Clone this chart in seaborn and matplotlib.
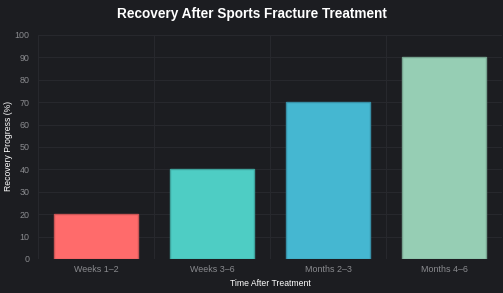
import matplotlib
matplotlib.use("Agg")
import matplotlib.pyplot as plt
import seaborn as sns
import pandas as pd

categories = ["Weeks 1\u20132", "Weeks 3\u20136", "Months 2\u20133", "Months 4\u20136"]
values = [20, 40, 70, 90]
colors = ["#FF6B6B", "#4ECDC4", "#45B7D1", "#96CEB4"]
edge_colors = ["#c95555", "#3ea39c", "#378fa6", "#76a38f"]
y_ticks = list(range(0, 101, 10))

bg = "#1c1d21"
sns.set_theme(style="dark")
plt.rcParams["font.family"] = ["Liberation Sans", "DejaVu Sans"]

df = pd.DataFrame({"cat": categories, "val": values})

fig = plt.figure(figsize=(5.03, 2.93), dpi=100, facecolor=bg)
ax = fig.add_axes([38/503, 34/293, 464/503, 224/293])
ax.set_facecolor(bg)

sns.barplot(data=df, x="cat", y="val", hue="cat", palette=colors, legend=False,
            width=0.72, ax=ax, saturation=1)
for p, ec in zip(ax.patches, edge_colors):
    p.set_edgecolor(ec)
    p.set_linewidth(1.0)

ax.set_ylim(0, 100)
ax.set_xlim(-0.5, 3.5)
ax.set_yticks(y_ticks)
ax.set_xticks(range(len(categories)))
ax.set_xticklabels(categories)

grid_c = "#27282d"
for y in y_ticks:
    ax.axhline(y, color=grid_c, lw=0.8, zorder=0)
for x in [-0.5, 0.5, 1.5, 2.5, 3.5]:
    ax.axvline(x, color=grid_c, lw=0.8, zorder=0)
ax.grid(False)
for s in ax.spines.values():
    s.set_visible(False)

ax.tick_params(axis="both", length=0, colors="#8a8b8f", labelsize=6.4)
ax.tick_params(axis="y", pad=6)
ax.tick_params(axis="x", pad=4)

ax.set_xlabel("Time After Treatment", color="white", fontsize=6.2, labelpad=4)
ax.set_ylabel("")
fig.text(9/503, 0.5 + (1 - (34 + 224/2)/293 - 0.5), "Recovery Progress (%)", rotation=90,
         ha="center", va="center", color="white", fontsize=6.2)

fig.text(0.5, 1 - 14/293, "Recovery After Sports Fracture Treatment", ha="center", va="center",
         color="white", fontsize=9.8, fontweight="bold")

fig.savefig("out.png", dpi=100, facecolor=bg)
